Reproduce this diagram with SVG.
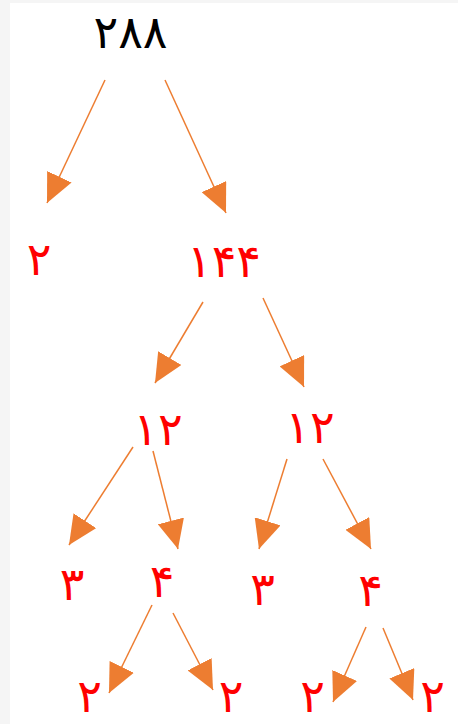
<svg xmlns="http://www.w3.org/2000/svg" width="458" height="724" viewBox="0 0 458 724">
<defs>
<style>
.n{font-family:"DejaVu Sans","Noto Sans",sans-serif;font-size:46px;text-anchor:middle;fill:#FF0000}
.m{letter-spacing:6px}
.root{fill:#000000}
.c line{stroke:#ED7D31;stroke-width:1.5;fill:none}
</style>
<marker id="ah" markerUnits="userSpaceOnUse" viewBox="0 0 29 27" refX="29" refY="13.5" markerWidth="29" markerHeight="27" orient="auto">
<path d="M0,0 L29,13.5 L0,27 z" fill="#ED7D31"/>
</marker>
</defs>
<rect x="0" y="0" width="458" height="724" fill="#ffffff"/>
<rect x="0" y="0" width="10" height="724" fill="#f5f5f5"/>
<rect x="0" y="0" width="458" height="3" fill="#f5f5f5"/>
<g id="connectors" class="c">
<line x1="105" y1="80" x2="47" y2="203" marker-end="url(#ah)"/>
<line x1="165" y1="80" x2="226" y2="213" marker-end="url(#ah)"/>
<line x1="203" y1="302" x2="155" y2="383" marker-end="url(#ah)"/>
<line x1="263" y1="298" x2="304" y2="387" marker-end="url(#ah)"/>
<line x1="133" y1="447" x2="69" y2="545" marker-end="url(#ah)"/>
<line x1="153" y1="451" x2="178" y2="549" marker-end="url(#ah)"/>
<line x1="287" y1="459" x2="259" y2="549" marker-end="url(#ah)"/>
<line x1="323" y1="459" x2="371" y2="549" marker-end="url(#ah)"/>
<line x1="152" y1="605" x2="109" y2="693" marker-end="url(#ah)"/>
<line x1="173" y1="613" x2="213" y2="690" marker-end="url(#ah)"/>
<line x1="366" y1="627" x2="333" y2="702" marker-end="url(#ah)"/>
<line x1="383" y1="628" x2="413" y2="700" marker-end="url(#ah)"/>
</g>
<g id="n288"><text class="n m root" x="130.5" y="48">۲۸۸</text></g>
<g id="n2a"><text class="n" x="39" y="275">۲</text></g>
<g id="n144"><text class="n m" x="224" y="277">۱۴۴</text></g>
<g id="n12a"><text class="n m" x="158" y="445">۱۲</text></g>
<g id="n12b"><text class="n m" x="310" y="443">۱۲</text></g>
<g id="n3a"><text class="n" x="72" y="600">۳</text></g>
<g id="n4a"><text class="n" x="162" y="597">۴</text></g>
<g id="n3b"><text class="n" x="262.5" y="605">۳</text></g>
<g id="n4b"><text class="n" x="370.5" y="606">۴</text></g>
<g id="n2b"><text class="n" x="89.5" y="712">۲</text></g>
<g id="n2c"><text class="n" x="231" y="712">۲</text></g>
<g id="n2d"><text class="n" x="312.5" y="712">۲</text></g>
<g id="n2e"><text class="n" x="432.5" y="712">۲</text></g>
</svg>
